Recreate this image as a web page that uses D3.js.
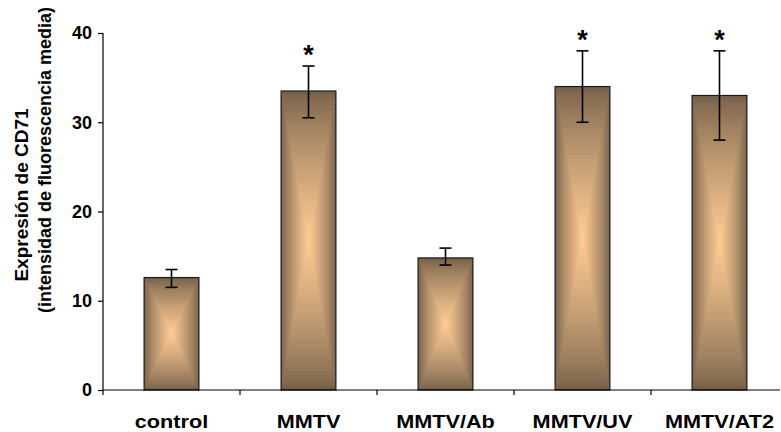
<!DOCTYPE html>
<html>
<head>
<meta charset="utf-8">
<script src="https://cdn.jsdelivr.net/npm/d3@7"></script>
<style>
  body { margin: 0; background: #fff; }
  text { font-family: "Liberation Sans", Arial, sans-serif; font-weight: bold; }
</style>
</head>
<body>
<svg id="chart" width="781" height="432"></svg>
<script>
// data
const categories = ['control', 'MMTV', 'MMTV/Ab', 'MMTV/UV', 'MMTV/AT2']
const means = [12.6, 33.5, 14.8, 34.0, 33.0]
const errLow = [11.5, 30.5, 14.0, 30.0, 28.0]
const errHigh = [13.5, 36.3, 15.9, 38.0, 38.0]
const significant = [false, true, false, true, true]
const yTicks = [0, 10, 20, 30, 40]

const svg = d3.select('#chart')
const plotLeft = 103, plotRight = 788, plotTop = 33, plotBottom = 390

const x = d3.scaleBand().domain(categories).range([plotLeft, plotRight]).paddingInner(0.6).paddingOuter(0.3)
const xBoundary = d3.scaleLinear().domain([0, categories.length]).range([plotLeft, plotRight])
const y = d3.scaleLinear().domain([0, 40]).range([plotBottom, plotTop])

const dark = '#77614a', light = '#fecb94'
const steps = 40

// bars with a rectangular "from centre" gradient made of nested rects
categories.forEach((c, i) => {
  const x0 = x(c), w = x.bandwidth()
  const y0 = y(means[i]), h = y(0) - y(means[i])
  const g = svg.append('g')
  g.selectAll('rect.shade')
    .data(d3.range(steps))
    .enter()
    .append('rect')
    .attr('class', 'shade')
    .attr('x', k => x0 + (k / steps) * w / 2)
    .attr('y', k => y0 + (k / steps) * h / 2)
    .attr('width', k => w * (1 - k / steps))
    .attr('height', k => h * (1 - k / steps))
    .attr('fill', k => d3.interpolateRgb(dark, light)(Math.pow(k / (steps - 1), 0.8)))
  g.append('rect')
    .attr('x', x0).attr('y', y0).attr('width', w).attr('height', h)
    .attr('fill', 'none').attr('stroke', '#1a1a1a').attr('stroke-width', 1.2)
})

// error bars
const cap = 6
categories.forEach((c, i) => {
  const cx = x(c) + x.bandwidth() / 2
  const g = svg.append('g').attr('stroke', '#000').attr('stroke-width', 1.6)
  g.append('line').attr('x1', cx).attr('x2', cx).attr('y1', y(errLow[i])).attr('y2', y(errHigh[i]))
  g.append('line').attr('x1', cx - cap).attr('x2', cx + cap).attr('y1', y(errLow[i])).attr('y2', y(errLow[i]))
  g.append('line').attr('x1', cx - cap).attr('x2', cx + cap).attr('y1', y(errHigh[i])).attr('y2', y(errHigh[i]))
  if (significant[i]) {
    svg.append('text')
      .attr('x', cx).attr('y', y(errHigh[i]) - 2)
      .attr('text-anchor', 'middle')
      .attr('font-size', 27)
      .text('*')
  }
})

// y axis
const yAxis = svg.append('g')
  .attr('transform', `translate(${plotLeft},0)`)
  .call(d3.axisLeft(y).tickValues(yTicks).tickSize(5).tickPadding(6))
yAxis.select('.domain').attr('stroke', '#000').attr('stroke-width', 1.2).attr('d', `M0,${plotBottom}V${plotTop}`)
yAxis.selectAll('.tick line').attr('stroke', '#000').attr('stroke-width', 1.2)
yAxis.selectAll('.tick text').attr('font-size', 18).attr('font-family', '"Liberation Sans", Arial, sans-serif').attr('font-weight', 'bold').attr('fill', '#000')

// x axis line with boundary ticks
svg.append('line').attr('x1', plotLeft).attr('x2', 780).attr('y1', plotBottom).attr('y2', plotBottom)
  .attr('stroke', '#000').attr('stroke-width', 1.2)
svg.selectAll('line.xtick')
  .data(d3.range(categories.length))
  .enter()
  .append('line')
  .attr('class', 'xtick')
  .attr('x1', d => xBoundary(d)).attr('x2', d => xBoundary(d))
  .attr('y1', plotBottom).attr('y2', plotBottom + 5)
  .attr('stroke', '#000').attr('stroke-width', 1.2)

// category labels (the original type is slightly wide, so stretch a little)
svg.selectAll('text.cat')
  .data(categories)
  .enter()
  .append('text')
  .attr('class', 'cat')
  .attr('transform', d => `translate(${x(d) + x.bandwidth() / 2},428) scale(1.14,1)`)
  .attr('text-anchor', 'middle')
  .attr('font-size', 19)
  .text(d => d)

// y axis title, two lines
svg.append('text')
  .attr('transform', 'translate(28,195) rotate(-90)')
  .attr('text-anchor', 'middle')
  .attr('font-size', 19)
  .text('Expresión de CD71')
svg.append('text')
  .attr('transform', 'translate(51,160) rotate(-90)')
  .attr('text-anchor', 'middle')
  .attr('font-size', 18)
  .text('(intensidad de fluorescencia media)')
</script>
</body>
</html>
